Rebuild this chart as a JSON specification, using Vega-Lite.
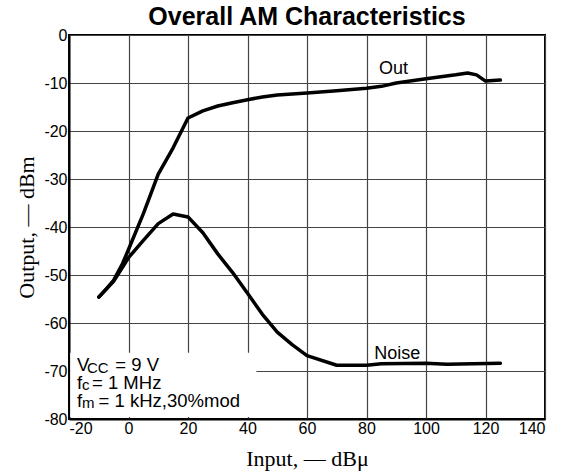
{
  "$schema": "https://vega.github.io/schema/vega-lite/v6.json",
  "width": 476,
  "height": 384,
  "autosize": "none",
  "padding": {"left": 69, "top": 35, "right": 21, "bottom": 54},
  "background": "white",
  "title": {"text": "Overall AM Characteristics", "font": "Liberation Sans", "fontSize": 25, "fontWeight": "bold", "color": "black", "anchor": "middle", "offset": -3},
  "config": {
    "view": {"stroke": "black", "strokeWidth": 2},
    "axis": {
      "grid": true, "gridColor": "#444444", "gridWidth": 1.2, "gridOpacity": 1,
      "ticks": false, "domainColor": "black", "domainWidth": 2,
      "labelFont": "Liberation Sans", "labelFontSize": 16, "labelColor": "black",
      "labelExpr": "datum.value + ''",
      "titleFont": "Liberation Serif", "titleFontSize": 22, "titleFontWeight": "normal", "titleColor": "black"
    }
  },
  "datasets": {
    "out": [
      {"x": -10, "y": -54.6}, {"x": -7, "y": -52.6}, {"x": -5, "y": -51.1}, {"x": -2, "y": -47.6}, {"x": 0, "y": -44.7},
      {"x": 5, "y": -37.2}, {"x": 10, "y": -29.0}, {"x": 15, "y": -23.5}, {"x": 20, "y": -17.3}, {"x": 25, "y": -15.8},
      {"x": 30, "y": -14.8}, {"x": 35, "y": -14.1}, {"x": 40, "y": -13.5}, {"x": 45, "y": -12.9}, {"x": 50, "y": -12.5},
      {"x": 60, "y": -12.1}, {"x": 70, "y": -11.6}, {"x": 80, "y": -11.1}, {"x": 85, "y": -10.7}, {"x": 90, "y": -10.0},
      {"x": 100, "y": -9.1}, {"x": 110, "y": -8.3}, {"x": 114, "y": -7.9}, {"x": 117, "y": -8.3}, {"x": 120, "y": -9.6},
      {"x": 125, "y": -9.4}
    ],
    "noise": [
      {"x": -10, "y": -54.6}, {"x": -5, "y": -51.3}, {"x": 0, "y": -46.4}, {"x": 5, "y": -42.8}, {"x": 10, "y": -39.3},
      {"x": 15, "y": -37.3}, {"x": 20, "y": -37.9}, {"x": 25, "y": -41.2}, {"x": 30, "y": -45.6}, {"x": 35, "y": -49.5},
      {"x": 40, "y": -53.8}, {"x": 45, "y": -58.2}, {"x": 50, "y": -61.9}, {"x": 55, "y": -64.5}, {"x": 60, "y": -66.8},
      {"x": 70, "y": -68.8}, {"x": 80, "y": -68.8}, {"x": 85, "y": -68.5}, {"x": 100, "y": -68.4}, {"x": 107, "y": -68.6},
      {"x": 125, "y": -68.4}
    ],
    "labels": [
      {"x": 89.1, "y": -8.2, "text": "Out"},
      {"x": 90.3, "y": -67.4, "text": "Noise"}
    ],
    "mask": [
      {"x": -19.6, "x2": 43, "y": -79.6, "y2": -66.2}
    ],
    "annot": [
      {"x": -17.31, "y": -70.06, "text": "V"},
      {"x": -4.44, "y": -70.06, "text": "= 9 V"},
      {"x": -17.31, "y": -73.67, "text": "f"},
      {"x": -12.27, "y": -73.67, "text": "= 1 MHz"},
      {"x": -17.31, "y": -77.42, "text": "f"},
      {"x": -10.05, "y": -77.42, "text": "= 1 kHz,30%mod"}
    ],
    "annotsub": [
      {"x": -13.95, "y": -70.4, "text": "CC"},
      {"x": -15.63, "y": -74.0, "text": "c"},
      {"x": -15.63, "y": -77.8, "text": "m"}
    ]
  },
  "layer": [
    {
      "data": {"name": "mask"},
      "mark": {"type": "rect", "fill": "white", "stroke": null},
      "encoding": {
        "x": {"field": "x", "type": "quantitative", "scale": {"domain": [-20, 140], "nice": false, "zero": false},
              "axis": {"values": [-20, 0, 20, 40, 60, 80, 100, 120, 140], "labelPadding": 1, "title": "Input, — dBμ", "titlePadding": 12}},
        "x2": {"field": "x2"},
        "y": {"field": "y", "type": "quantitative", "scale": {"domain": [-80, 0], "nice": false, "zero": false},
              "axis": {"values": [-80, -70, -60, -50, -40, -30, -20, -10, 0], "labelPadding": 2, "title": "Output, — dBm", "titlePadding": 5}},
        "y2": {"field": "y2"}
      }
    },
    {
      "data": {"name": "out"},
      "mark": {"type": "line", "color": "black", "strokeWidth": 3.5, "strokeJoin": "round", "strokeCap": "round"},
      "encoding": {
        "x": {"field": "x", "type": "quantitative"},
        "y": {"field": "y", "type": "quantitative"}
      }
    },
    {
      "data": {"name": "noise"},
      "mark": {"type": "line", "color": "black", "strokeWidth": 3.5, "strokeJoin": "round", "strokeCap": "round"},
      "encoding": {
        "x": {"field": "x", "type": "quantitative"},
        "y": {"field": "y", "type": "quantitative"}
      }
    },
    {
      "data": {"name": "labels"},
      "mark": {"type": "text", "font": "Liberation Sans", "fontSize": 18, "color": "black", "align": "center", "baseline": "alphabetic"},
      "encoding": {
        "x": {"field": "x", "type": "quantitative"},
        "y": {"field": "y", "type": "quantitative"},
        "text": {"field": "text"}
      }
    },
    {
      "data": {"name": "annot"},
      "mark": {"type": "text", "font": "Liberation Sans", "fontSize": 18.5, "color": "black", "align": "left", "baseline": "alphabetic"},
      "encoding": {
        "x": {"field": "x", "type": "quantitative"},
        "y": {"field": "y", "type": "quantitative"},
        "text": {"field": "text"}
      }
    },
    {
      "data": {"name": "annotsub"},
      "mark": {"type": "text", "font": "Liberation Sans", "fontSize": 15, "color": "black", "align": "left", "baseline": "alphabetic"},
      "encoding": {
        "x": {"field": "x", "type": "quantitative"},
        "y": {"field": "y", "type": "quantitative"},
        "text": {"field": "text"}
      }
    }
  ]
}
